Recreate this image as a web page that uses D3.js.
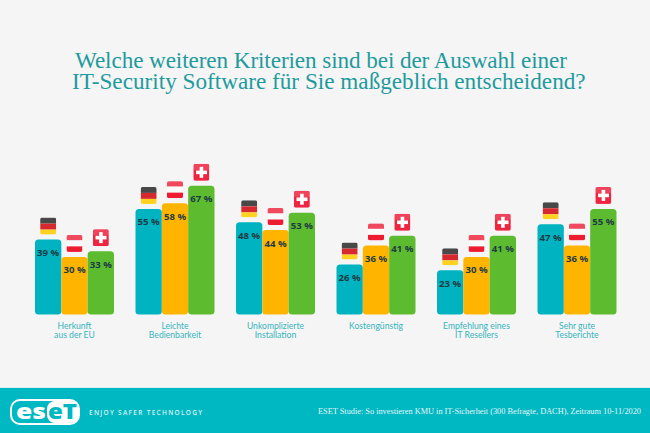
<!DOCTYPE html>
<html>
<head>
<meta charset="utf-8">
<script src="https://cdn.jsdelivr.net/npm/d3@7"></script>
<style>
  html, body { margin: 0; padding: 0; background: #f5f5f5; }
  svg { display: block; }
  text { font-family: "Open Sans", sans-serif; }
  .title { font-family: "Liberation Serif", serif; font-size: 23.2px; fill: #1f9a9e; }
  .value { font-size: 9.6px; font-weight: 700; fill: #1d3b44; }
  .category { font-family: Lato, sans-serif; font-size: 8.6px; fill: #35b4bd; }
</style>
</head>
<body>
<svg id="chart" width="650" height="433"></svg>
<script>
const titleLines = [
  'Welche weiteren Kriterien sind bei der Auswahl einer',
  'IT-Security Software für Sie maßgeblich entscheidend?',
];
const categories = [
  ['Herkunft', 'aus der EU'],
  ['Leichte', 'Bedienbarkeit'],
  ['Unkomplizierte', 'Installation'],
  ['Kostengünstig'],
  ['Empfehlung eines', 'IT Resellers'],
  ['Sehr gute', 'Tesberichte'],
];
const countries = ['de', 'at', 'ch'];
const germany = [39, 55, 48, 26, 23, 47];
const austria = [30, 58, 44, 36, 30, 36];
const switzerland = [33, 67, 53, 41, 41, 55];
const sourceText = 'ESET Studie: So investieren KMU in IT-Sicherheit (300 Befragte, DACH), Zeitraum 10-11/2020';
const taglineText = 'ENJOY SAFER TECHNOLOGY';

const colors = { de: '#00b3c1', at: '#ffb500', ch: '#5dbb2f' };
const series = { de: germany, at: austria, ch: switzerland };

const svg = d3.select('#chart');
const baseline = 314.5;
const flagW = 16;
const flagH = 17;

const x0 = d3.scaleBand()
  .domain(d3.range(categories.length))
  .range([35, 616.5])
  .paddingInner(0.214)
  .paddingOuter(0);
const x1 = d3.scaleBand()
  .domain(countries)
  .range([0, x0.bandwidth()]);
const y = d3.scaleLinear().domain([0, 100]).range([baseline, baseline - 192]);

svg.append('rect').attr('width', 650).attr('height', 433).attr('fill', '#f5f5f5');

svg.append('g')
  .selectAll('text')
  .data(titleLines)
  .join('text')
  .attr('class', 'title')
  .attr('x', (d, i) => (i === 0 ? 75 : 72))
  .attr('y', (d, i) => 68 + i * 21.3)
  .attr('letter-spacing', (d, i) => (i === 0 ? -0.1 : 0))
  .text(d => d);

const defs = svg.append('defs');
defs.append('clipPath').attr('id', 'flag-clip')
  .append('rect').attr('width', flagW).attr('height', flagH).attr('rx', 2);

function drawFlag(g, country) {
  const flag = g.append('g').attr('clip-path', 'url(#flag-clip)');
  const stripe = (yPos, h, fill) => flag.append('rect')
    .attr('y', yPos).attr('width', flagW).attr('height', h).attr('fill', fill);
  if (country === 'de') {
    stripe(0, 6, '#2b2b2b');
    stripe(6, 6, '#d8282f');
    stripe(12, 5, '#ffd21f');
  } else if (country === 'at') {
    stripe(0, 5.5, '#ee2c44');
    stripe(5.5, 6, '#fafafa');
    stripe(11.5, 5.5, '#ee1c30');
  } else {
    stripe(0, flagH, '#ee2440');
    flag.append('rect').attr('x', 6.3).attr('y', 3).attr('width', 3.6).attr('height', 11).attr('fill', '#fff');
    flag.append('rect').attr('x', 2.7).attr('y', 6.7).attr('width', 11).attr('height', 3.6).attr('fill', '#fff');
  }
  // gloss on the upper half
  flag.append('rect').attr('width', flagW).attr('height', 6).attr('fill', '#fff').attr('opacity', 0.14);
}

const groups = svg.append('g')
  .selectAll('g')
  .data(categories)
  .join('g')
  .attr('transform', (d, i) => `translate(${x0(i)},0)`);

groups.each(function (cat, i) {
  const group = d3.select(this);
  countries.forEach((c) => {
    const v = series[c][i];
    const bx = x1(c);
    const top = y(v);
    group.append('rect')
      .attr('x', bx)
      .attr('y', top)
      .attr('width', x1.bandwidth())
      .attr('height', baseline - top)
      .attr('rx', 3.5)
      .attr('fill', colors[c]);
    group.append('text')
      .attr('class', 'value')
      .attr('x', bx + x1.bandwidth() / 2)
      .attr('y', top + 16.5)
      .attr('text-anchor', 'middle')
      .text(`${v} %`);
    const flag = group.append('g')
      .attr('transform', `translate(${bx + (x1.bandwidth() - flagW) / 2},${top - 5 - flagH})`);
    drawFlag(flag, c);
  });
  group.selectAll('.category')
    .data(cat)
    .join('text')
    .attr('class', 'category')
    .attr('x', x0.bandwidth() / 2)
    .attr('y', (d, j) => 328.5 + j * 9)
    .attr('text-anchor', 'middle')
    .text(d => d);
});

// footer
svg.append('rect').attr('y', 387).attr('width', 650).attr('height', 1).attr('fill', '#d8eff1');
svg.append('rect').attr('y', 388).attr('width', 650).attr('height', 45).attr('fill', '#00b8c2');

const logo = svg.append('g').attr('transform', 'translate(10,399)');
logo.append('rect').attr('x', 1).attr('y', 1).attr('width', 68).attr('height', 24).attr('rx', 9)
  .attr('fill', 'none').attr('stroke', '#fff').attr('stroke-width', 2);
logo.append('text').attr('x', 6).attr('y', 19.5).attr('fill', '#fff')
  .attr('font-size', 21).attr('font-weight', 800)
  .attr('textLength', 30).attr('lengthAdjust', 'spacingAndGlyphs').text('es');
logo.append('rect').attr('x', 37).attr('y', 2).attr('width', 32).attr('height', 22).attr('rx', 8).attr('fill', '#fff');
logo.append('text').attr('x', 38).attr('y', 19.5).attr('fill', '#00b8c2')
  .attr('font-size', 21).attr('font-weight', 800)
  .attr('textLength', 29).attr('lengthAdjust', 'spacingAndGlyphs').text('eT');

svg.append('text')
  .attr('x', 89).attr('y', 415)
  .attr('fill', '#d6f3f5')
  .attr('font-size', 6.5)
  .attr('font-weight', 600)
  .attr('letter-spacing', 1.3)
  .text(taglineText);

svg.append('text')
  .attr('x', 318).attr('y', 414)
  .attr('fill', '#e2f7f8')
  .attr('font-size', 8.3)
  .style('font-family', '"Liberation Serif", serif')
  .text(sourceText);
</script>
</body>
</html>
